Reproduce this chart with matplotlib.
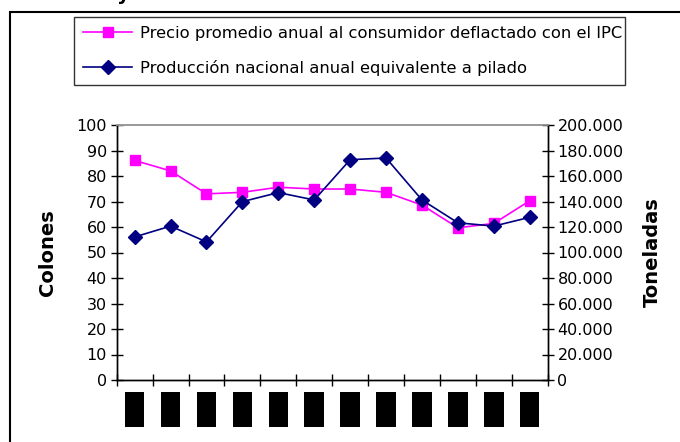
import matplotlib
matplotlib.use("Agg")
import matplotlib.pyplot as plt
import matplotlib.patches as patches
from matplotlib.ticker import FuncFormatter, MultipleLocator, FixedLocator

plt.rcParams['font.family'] = ['DejaVu Sans']

# Data
categories = ["███"] * 12
precio = [86.1, 82.0, 73.0, 73.6, 75.6, 74.9, 74.9, 73.6, 68.6, 59.7, 61.4, 70.3]
produccion = [112200, 120700, 108300, 139900, 147000, 141200, 172800, 174100, 141200, 123300, 120700, 127600]
label_precio = "Precio promedio anual al consumidor deflactado con el IPC"
label_prod = "Producción nacional anual equivalente a pilado"

fig = plt.figure(figsize=(6.8, 4.42), dpi=100)
ax = fig.add_axes([116.7/680, 1-380/442, (547.7-116.7)/680, (380-125)/442])
ax2 = ax.twinx()

x = list(range(len(categories)))
l1, = ax.plot(x, precio, color='#FF00FF', marker='s', markersize=7.5, lw=1.2, label=label_precio)
l2, = ax2.plot(x, produccion, color='#000080', marker='D', markersize=7, lw=1.2, label=label_prod)

ax.set_xlim(-0.5, len(categories) - 0.5)
ax.set_ylim(0, 100)
ax2.set_ylim(0, 200000)
ax.yaxis.set_major_locator(MultipleLocator(10))
ax2.yaxis.set_major_locator(MultipleLocator(20000))
ax2.yaxis.set_major_formatter(FuncFormatter(lambda v, p: f"{int(v):,}".replace(",", ".")))

# x ticks at category boundaries, labels at centers
ax.xaxis.set_major_locator(FixedLocator([i - 0.5 for i in range(len(categories) + 1)]))
ax.xaxis.set_minor_locator(FixedLocator(x))
ax.set_xticklabels([])
ax.set_xticklabels(categories, minor=True, rotation=90, fontsize=9)
for t in ax.get_xticklabels(minor=True):
    t.set_bbox(dict(boxstyle='square,pad=0.25', facecolor='black', edgecolor='none'))
ax.tick_params(axis='x', which='major', direction='inout', length=8, width=1)
ax.tick_params(axis='x', which='minor', length=0, pad=11)

ax.tick_params(axis='y', direction='inout', length=8, width=1, labelsize=11.5, pad=3)
ax2.tick_params(axis='y', direction='inout', length=8, width=1, labelsize=11.5, pad=3)

for a in (ax, ax2):
    a.spines['top'].set_color('#999999')
    a.spines['top'].set_linewidth(1.2)
    for s in ('left', 'right', 'bottom'):
        a.spines[s].set_color('black')
        a.spines[s].set_linewidth(1)

ax.set_ylabel("Colones", fontsize=14, fontweight='bold', labelpad=14)
ax2.set_ylabel("Toneladas", fontsize=14, fontweight='bold', labelpad=14)

leg = fig.legend([l1, l2], [label_precio, label_prod], loc='upper left',
                 bbox_to_anchor=(74/680, 1-87/442, (625-74)/680, 70/442),
                 mode='expand', fontsize=11.8, frameon=True, fancybox=False,
                 edgecolor='black', handlelength=3, handletextpad=0.45,
                 labelspacing=1.15, borderaxespad=0, borderpad=0.55)
leg.get_frame().set_linewidth(1)

# outer border
fig.patches.append(patches.Rectangle((10/680, -0.1), 1.0, 1.1 - 12.5/442, fill=False,
                                     edgecolor='black', lw=1.5, transform=fig.transFigure))
# cut-off title remnant
fig.text(123/680, 0.999, "y", fontsize=14, fontweight='bold', ha='center', va='baseline')

fig.savefig("out.png", dpi=100)
